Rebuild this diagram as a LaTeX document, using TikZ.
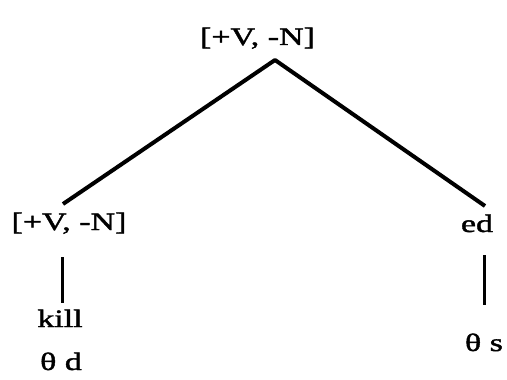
\documentclass[tikz,border=0pt]{standalone}
\usepackage{fontspec}
\setmainfont[FakeStretch=1.36,FakeBold=1.6]{Liberation Serif}
\begin{document}
\begin{tikzpicture}[x=1pt,y=-1pt,
  lbl/.style={inner sep=0pt,anchor=base,font=\fontsize{25}{30}\selectfont},
  branch/.style={line width=4pt,line join=round},
  stem/.style={line width=3pt}]
\useasboundingbox (0,0) rectangle (507,380);
\node[lbl] (top) at (257.5,45) {[+V, -N]};
\node[lbl] (lft) at (69,230) {[+V, -N]};
\node[lbl] (ed) at (477,232) {ed};
\node[lbl] (kill) at (60,327) {kill};
\node[lbl] (thd) at (61,370) {θ d};
\node[lbl] (ths) at (484,351) {θ s};
\coordinate (apex) at (275,60);
\coordinate (lend) at (63,204);
\coordinate (rend) at (485,206);
\coordinate (l1) at (62,257);
\coordinate (l2) at (62,303);
\coordinate (r1) at (484,255);
\coordinate (r2) at (484,305);
\draw[branch] (lend) -- (apex) -- (rend);
\draw[stem] (l1) -- (l2);
\draw[stem] (r1) -- (r2);
\end{tikzpicture}
\end{document}
